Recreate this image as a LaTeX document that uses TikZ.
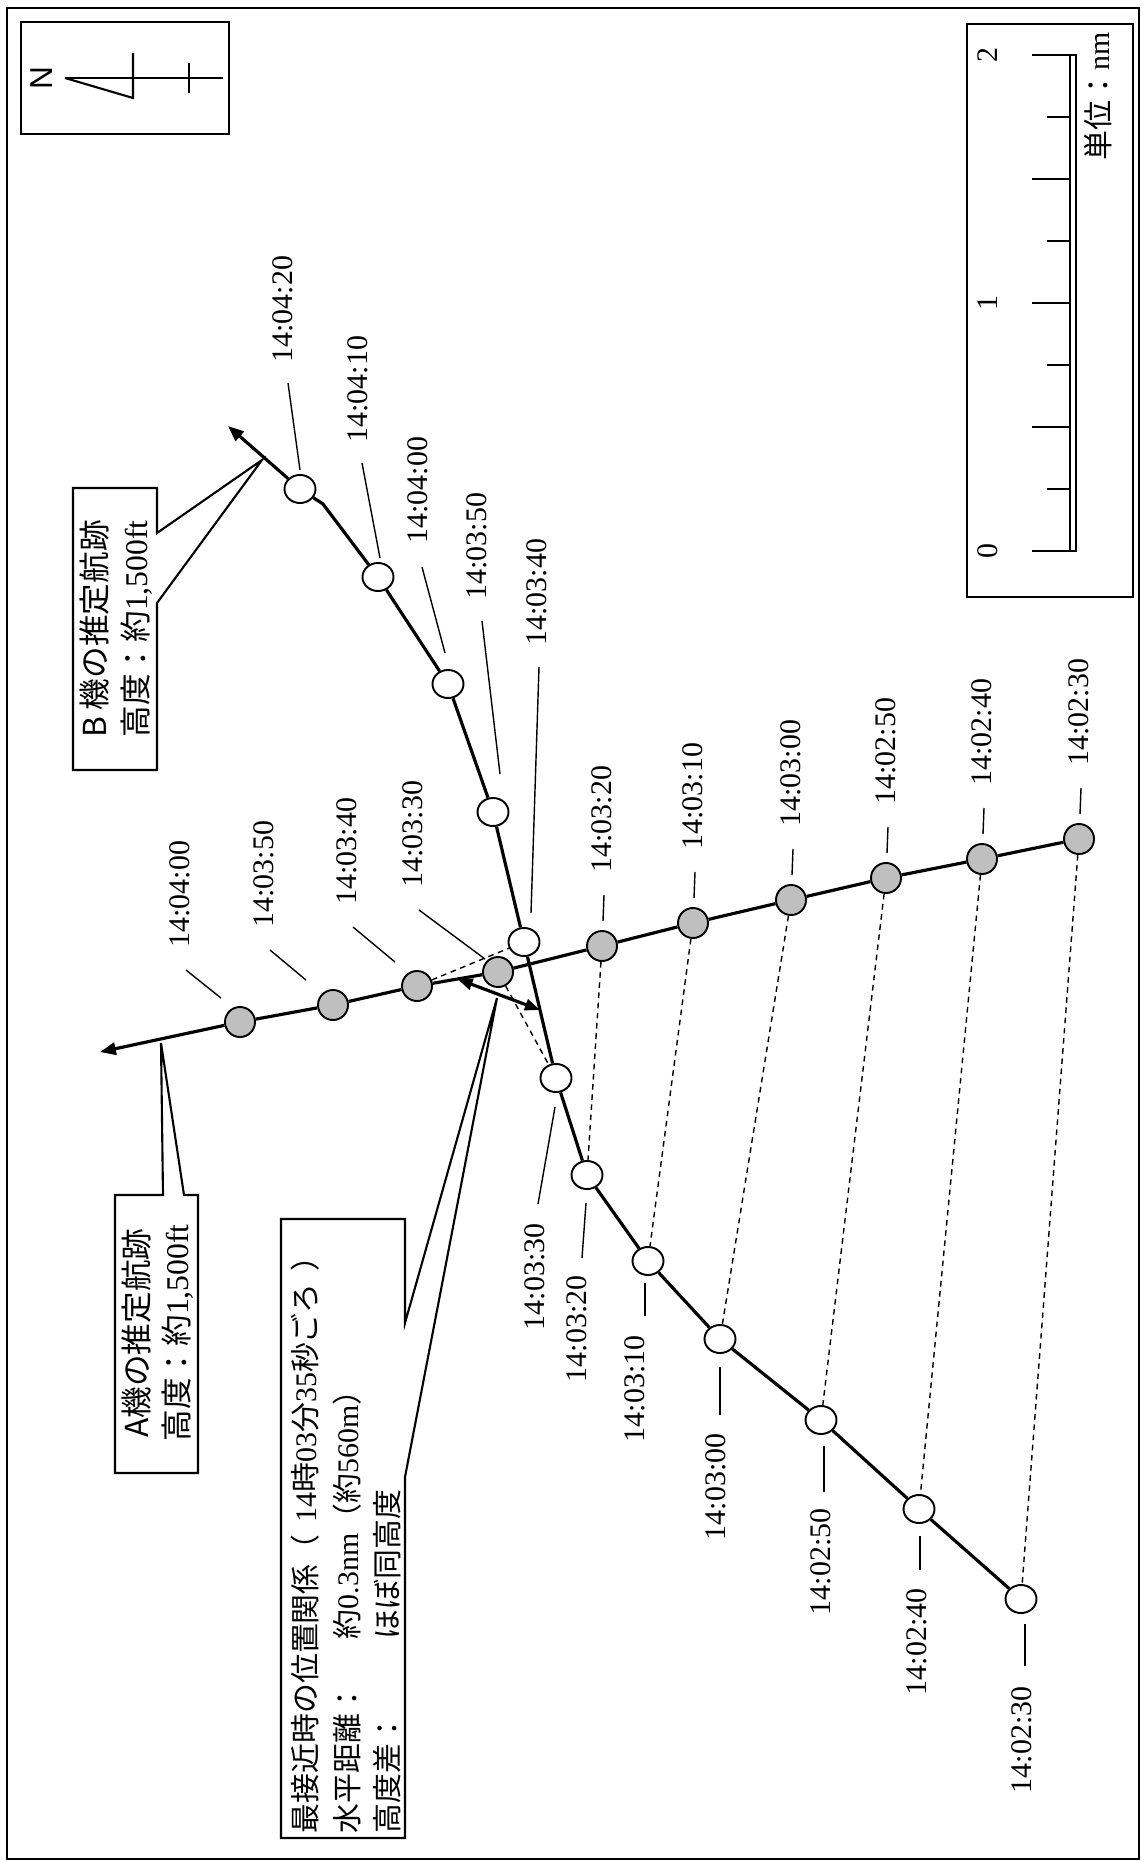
\documentclass[tikz,border=0pt]{standalone}
\usepackage{fontspec}
\setmainfont{Liberation Serif}
\newfontfamily\jp{Noto Sans CJK JP}
\newfontfamily\sansfnt{Liberation Sans}
\usetikzlibrary{calc,shapes.geometric,arrows.meta}
\newcommand{\J}[1]{{\jp #1}}

\begin{document}
\begin{tikzpicture}[
  x=0.01cm, y=-0.01cm,
  apos/.style={circle, draw=black, line width=0.55pt, fill=gray!50, inner sep=0pt, minimum size=0.30cm},
  bpos/.style={ellipse, draw=black, line width=0.55pt, fill=white, inner sep=0pt, minimum width=0.31cm, minimum height=0.28cm},
  trk/.style={line width=0.9pt},
  lead/.style={line width=0.4pt},
  pair/.style={line width=0.4pt, dash pattern=on 1.6pt off 1.3pt},
  tlab/.style={rotate=90, inner sep=0pt, font=\fontsize{8.5}{10}\selectfont},
  btxt/.style={rotate=90, inner sep=0pt, font=\fontsize{9}{10}\selectfont},
  caja/.style={line width=0.6pt, fill=white},
  tip/.style={-{Triangle[length=4.5pt,width=3.5pt]}}
]
  \useasboundingbox (0,0) rectangle (1141,1861);

  % Marco exterior
  \draw[line width=0.6pt] (7,8) rectangle (1139,1859);

  % Norte
  \draw[line width=0.6pt] (21,22) rectangle (229,134);
  \node[tlab, font=\sansfnt\fontsize{9}{10}\selectfont] (norte) at (42,78) {N};
  \draw[line width=0.6pt] (65,78) -- (223,78);
  \draw[line width=0.6pt] (65,78) -- (133,98) -- (133,53);
  \draw[line width=0.6pt] (189,63) -- (189,93);

  % Escala
  \draw[line width=0.6pt] (967,24) rectangle (1133,597);
  \draw[line width=0.5pt] (1070,55) rectangle (1076,551);
  \foreach \k in {0,...,8} {
    \pgfmathsetmacro{\yk}{551-62*\k}
    \pgfmathsetmacro{\xk}{ifthenelse(mod(\k,2)==0,1032,1047)}
    \draw[lead] (\xk,\yk) -- (1070,\yk);
  }
  \foreach \v/\yy in {0/551, 1/303, 2/55}
    \node[tlab] (esc\v) at (988,\yy) {\v};
  \node[tlab, anchor=east] (unid) at (1098,32) {\J{単位：}nm};

  % Cuadros de texto
  \coordinate (ca0) at (161,1043);
  \coordinate (cb0) at (262,460);
  \coordinate (cc0) at (497,998);
  \draw[caja] (115,1195) -- (163,1195) -- (ca0) -- (184,1195) -- (198,1195) -- (198,1473) -- (115,1473) -- cycle;
  \draw[caja] (73,488) -- (157,488) -- (157,533) -- (cb0) -- (157,603) -- (157,770) -- (73,770) -- cycle;
  \draw[caja] (281,1219) -- (405,1219) -- (405,1323) -- (cc0) -- (405,1477) -- (405,1838) -- (281,1838) -- cycle;
  \node[btxt] (alab1) at (137,1333) {\J{A機の推定航跡}};
  \node[btxt] (alab2) at (178,1333) {\J{高度：約}1,500ft};
  \node[btxt] (blab1) at (95,629) {\J{B 機の推定航跡}};
  \node[btxt] (blab2) at (137,629) {\J{高度：約}1,500ft};
  \node[tlab, anchor=west] (cpa1) at (305,1834) {\J{最接近時の位置関係（}\hspace{0.4em}14\J{時}03\J{分}35\J{秒ごろ}\hspace{0.4em}\J{）}};
  \node[tlab, anchor=west] (cpa2) at (347,1834) {\makebox[6.5em][l]{\J{水平距離：}}\J{約}0.3nm\J{（約}560m\J{）}};
  \node[tlab, anchor=west] (cpa3) at (387,1834) {\makebox[6.5em][l]{\J{高度差：}}\J{ほぼ同高度}};

  % Posiciones de A y B
  \foreach \n/\px/\py in {1/1079/839, 2/982/859, 3/886/878, 4/791/900, 5/693/923,
                          6/602/946, 7/498/972, 8/417/986, 9/333/1005, 10/240/1022}
    \node[apos] (a\n) at (\px,\py) {};
  \foreach \n/\px/\py in {1/1021/1599, 2/919/1509, 3/821/1420, 4/720/1339, 5/648/1261, 6/587/1175,
                          7/556/1078, 8/524/942, 9/493/812, 10/448/684, 11/378/577, 12/300/489}
    \node[bpos] (b\n) at (\px,\py) {};
  \coordinate (atip) at (100,1052);
  \coordinate (btip) at (228,426);
  \coordinate (bk) at (323,504);

  % Trayectorias
  \foreach \n [count=\m from 2] in {1,...,9}
    \draw[trk] (a\n) -- (a\m);
  \draw[trk, tip] (a10) -- (atip);
  \foreach \n [count=\m from 2] in {1,...,10}
    \draw[trk] (b\n) -- (b\m);
  \draw[trk] (b11) -- (bk) -- (b12);
  \draw[trk, tip] (b12) -- (btip);

  % Mismo instante
  \foreach \n in {1,...,8}
    \draw[pair] (a\n) -- (b\n);

  % Distancia minima
  \coordinate (cpaA) at ($(a7)!0.5!(a8)$);
  \coordinate (cpaB) at ($(b7)!0.5!(b8)$);
  \draw[trk, {Triangle[length=4.3pt,width=3.2pt]}-{Triangle[length=4.3pt,width=3.2pt]}] (cpaA) -- (cpaB);

  % Horas de A
  \foreach \n/\tm in {1/14:02:30, 2/14:02:40, 3/14:02:50, 4/14:03:00, 5/14:03:10, 6/14:03:20} {
    \draw[lead] ([shift={(2,-51)}]a\n.center) -- ([shift={(1,-25)}]a\n.center);
    \node[tlab, anchor=west] (ta\n) at ([shift={(0,-73)}]a\n.center) {\tm};
  }
  \foreach \n/\tm/\tx/\ty/\sx/\sy/\ex/\ey in {7/14:03:30/-85/-84/-79/-62/-13/-13,
      8/14:03:40/-70/-81/-64/-59/-22/-24, 9/14:03:50/-69/-77/-63/-55/-27/-25,
      10/14:04:00/-60/-74/-54/-52/-19/-24} {
    \draw[lead] ([shift={(\sx,\sy)}]a\n.center) -- ([shift={(\ex,\ey)}]a\n.center);
    \node[tlab, anchor=west] (ta\n) at ([shift={(\tx,\ty)}]a\n.center) {\tm};
  }

  % Horas de B
  \foreach \n/\tm/\tx/\ty/\sx/\sy/\ex/\ey in {8/14:03:40/13/-296/15/-275/7/-29,
      9/14:03:50/-16/-212/-11/-191/7/-38, 10/14:04:00/-30/-140/-26/-117/-3/-31,
      11/14:04:10/-20/-134/-16/-114/2/-19, 12/14:04:20/-17/-126/-12/-106/0/-19} {
    \draw[lead] ([shift={(\sx,\sy)}]b\n.center) -- ([shift={(\ex,\ey)}]b\n.center);
    \node[tlab, anchor=west] (tb\n) at ([shift={(\tx,\ty)}]b\n.center) {\tm};
  }
  \foreach \n/\tm/\tx/\ty/\sx/\sy/\ex/\ey in {1/14:02:30/1/87/4/25/4/67,
      2/14:02:40/-2/79/1/27/1/61, 3/14:02:50/0/88/3/26/3/72,
      4/14:03:00/-4/94/0/28/0/76, 5/14:03:10/-13/74/-3/22/-3/55,
      6/14:03:20/-10/100/-1/28/-5/83, 7/14:03:30/-21/145/-1/29/-18/126} {
    \draw[lead] ([shift={(\sx,\sy)}]b\n.center) -- ([shift={(\ex,\ey)}]b\n.center);
    \node[tlab, anchor=east] (tb\n) at ([shift={(\tx,\ty)}]b\n.center) {\tm};
  }
\end{tikzpicture}
\end{document}
